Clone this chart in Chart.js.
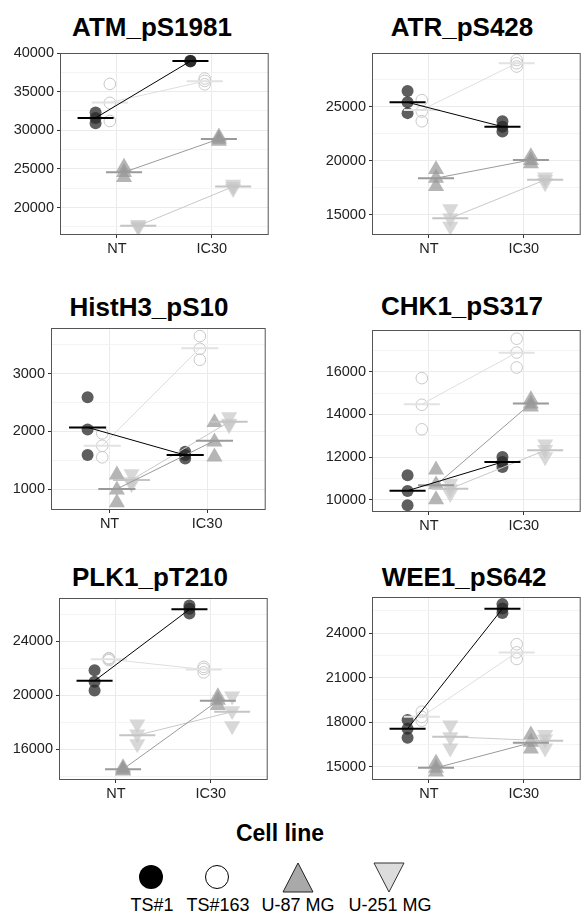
<!DOCTYPE html>
<html>
<head>
<meta charset="utf-8">
<script src="https://cdn.jsdelivr.net/npm/chart.js@4.4.1/dist/chart.umd.min.js"></script>
<style>
  body { margin: 0; width: 587px; height: 921px; background: #fff; position: relative; overflow: hidden;
         font-family: "Liberation Sans", Arial, sans-serif; }
  canvas { position: absolute; }
  .title { position: absolute; font-weight: bold; font-size: 26px; line-height: 26px; white-space: nowrap;
           transform: translateX(-50%); color: #000; }
  .legtitle { position: absolute; left: 280px; top: 822px; font-weight: bold; font-size: 23px; line-height: 23px;
              transform: translateX(-50%); }
  .leglab { position: absolute; top: 896px; font-size: 18px; line-height: 18px; transform: translateX(-50%); white-space: nowrap; }
  svg { position: absolute; left: 0; top: 850px; }
</style>
</head>
<body>
<svg width="587" height="60">
  <circle cx="151" cy="27" r="12" fill="#000"/>
  <circle cx="217" cy="27" r="11.5" fill="#fff" stroke="#000" stroke-width="1"/>
  <polygon points="298,13 283,42 313,42" fill="#a9a9a9" stroke="#222" stroke-width="1"/>
  <polygon points="374,13 404,13 389,42" fill="#dcdcdc" stroke="#333" stroke-width="1"/>
</svg>
<div class="legtitle">Cell line</div>
<div class="leglab" style="left:152px">TS#1</div>
<div class="leglab" style="left:218px">TS#163</div>
<div class="leglab" style="left:298px">U-87 MG</div>
<div class="leglab" style="left:390px">U-251 MG</div>
<script>
const conditions = ['NT', 'IC30'];
const cellLines = ['TS#1', 'TS#163', 'U-87 MG', 'U-251 MG'];

// replicates per cell line: TS#1, TS#163, U-87 MG, U-251 MG
const atmNT = [[32300, 31600, 30900], [36000, 33550, 31200], [25250, 24550, 23900], [17800, 17600, 17450]];
const atmIC30 = [[39000, 38950, 38900], [36700, 36400, 35950], [29150, 28850, 28600], [23000, 22700, 22450]];
const atmMean = [[31600, 38950], [33600, 36350], [24570, 28870], [17640, 22710]];
const atmTicks = [20000, 25000, 30000, 35000, 40000];

const atrNT = [[26450, 25400, 24400], [25600, 24550, 23650], [19200, 18400, 17650], [15550, 14700, 13950]];
const atrIC30 = [[23650, 23150, 22700], [29300, 29000, 28700], [20400, 20050, 19750], [18500, 18250, 17950]];
const atrMean = [[25400, 23150], [24700, 29000], [18400, 20080], [14700, 18240]];
const atrTicks = [15000, 20000, 25000];

const h3NT = [[2590, 2035, 1590], [1966, 1752, 1552], [1250, 990, 770], [1265, 1125, 1090]];
const h3IC30 = [[1650, 1590, 1530], [3650, 3430, 3240], [2155, 1820, 1560], [2250, 2140, 2110]];
const h3Mean = [[2070, 1590], [1752, 3440], [1003, 1840], [1160, 2166]];
const h3Ticks = [1000, 2000, 3000];

const chkNT = [[11140, 10400, 9740], [15700, 14450, 13300], [11400, 10700, 10000], [10750, 10500, 10280]];
const chkIC30 = [[12000, 11765, 11530], [17550, 16900, 16200], [14700, 14500, 14350], [12600, 12350, 12000]];
const chkMean = [[10420, 11765], [14480, 16894], [10680, 14513], [10513, 12315]];
const chkTicks = [10000, 12000, 14000, 16000];

const plkNT = [[21850, 21000, 20350], [22750, 22700, 22600], [14650, 14500, 14400], [17870, 17130, 16400]];
const plkIC30 = [[26650, 26400, 26050], [22100, 21950, 21700], [19900, 19650, 19250], [19940, 18850, 17730]];
const plkMean = [[21070, 26360], [22670, 21910], [14530, 19594], [17040, 18783]];
const plkTicks = [16000, 20000, 24000];

const weeNT = [[18150, 17550, 16950], [18700, 18350, 18100], [15250, 14900, 14650], [17800, 17000, 16250]];
const weeIC30 = [[25950, 25650, 25350], [23250, 22700, 22250], [17150, 16650, 16200], [17150, 16850, 16250]];
const weeMean = [[17560, 25642], [18365, 22690], [14919, 16608], [17013, 16743]];
const weeTicks = [15000, 18000, 21000, 24000];

const panels = [
  { title: 'ATM_pS1981', nt: atmNT, ic: atmIC30, mean: atmMean, ticks: atmTicks, min: 16450, max: 40000, box: [60, 53, 276, 235], tx: 152, ty: 14 },
  { title: 'ATR_pS428', nt: atrNT, ic: atrIC30, mean: atrMean, ticks: atrTicks, min: 13150, max: 29950, box: [372, 53, 588, 235], tx: 462, ty: 14 },
  { title: 'HistH3_pS10', nt: h3NT, ic: h3IC30, mean: h3Mean, ticks: h3Ticks, min: 640, max: 3790, box: [51, 328, 273, 510], tx: 149, ty: 294 },
  { title: 'CHK1_pS317', nt: chkNT, ic: chkIC30, mean: chkMean, ticks: chkTicks, min: 9420, max: 17960, box: [372, 330, 588, 512], tx: 462, ty: 293 },
  { title: 'PLK1_pT210', nt: plkNT, ic: plkIC30, mean: plkMean, ticks: plkTicks, min: 13730, max: 27200, box: [59, 598, 275, 780], tx: 150, ty: 564 },
  { title: 'WEE1_pS642', nt: weeNT, ic: weeIC30, mean: weeMean, ticks: weeTicks, min: 14100, max: 26430, box: [372, 597, 588, 780], tx: 464, ty: 564 }
];

// look of each cell line
const dodge = [-0.225, -0.075, 0.075, 0.225];
const halfW = 0.19;
const looks = [
  { style: 'circle', rot: 0, r: 6, fill: 'rgba(40,40,40,0.75)', stroke: 'rgba(0,0,0,0)', bw: 0, mean: '#000', link: '#000' },
  { style: 'circle', rot: 0, r: 5.8, fill: 'rgba(0,0,0,0)', stroke: '#c8c8c8', bw: 1, mean: '#e2e2e2', link: '#dedede' },
  { style: 'triangle', rot: 0, r: 9.3, fill: 'rgba(150,150,150,0.7)', stroke: 'rgba(0,0,0,0)', bw: 0, mean: '#9a9a9a', link: '#9a9a9a' },
  { style: 'triangle', rot: 180, r: 9.3, fill: 'rgba(200,200,200,0.7)', stroke: 'rgba(0,0,0,0)', bw: 0, mean: '#c4c4c4', link: '#c8c8c8' }
];

const frame = {
  id: 'frame',
  afterDraw(chart) {
    const a = chart.chartArea, ctx = chart.ctx;
    ctx.save();
    ctx.strokeStyle = '#555';
    ctx.lineWidth = 1;
    ctx.strokeRect(a.left + 0.5, a.top + 0.5, a.right - a.left - 1, a.bottom - a.top - 1);
    ctx.restore();
  }
};

const yw = 52, xh = 32, padT = 12, padR = 2;

panels.forEach(p => {
  const [L, T, R, B] = p.box;
  const t = document.createElement('div');
  t.className = 'title';
  t.textContent = p.title;
  t.style.left = p.tx + 'px';
  t.style.top = p.ty + 'px';
  document.body.appendChild(t);

  const cv = document.createElement('canvas');
  cv.width = R - L + yw + padR;
  cv.height = B - T + padT + xh;
  cv.style.left = (L - yw) + 'px';
  cv.style.top = (T - padT) + 'px';
  document.body.appendChild(cv);

  const step = (p.ticks[1] - p.ticks[0]) / 2;
  const all = [];
  for (let v = p.ticks[0] - step; v <= p.max; v += step) if (v >= p.min) all.push(v);
  const isMajor = v => p.ticks.includes(v);

  const datasets = [];
  looks.forEach((lk, c) => {
    const d = dodge[c];
    const m = p.mean[c];
    // mean bars
    [0, 1].forEach(k => {
      datasets.push({ type: 'line', data: [{ x: k + 1 + d - halfW, y: m[k] }, { x: k + 1 + d + halfW, y: m[k] }],
        borderColor: lk.mean, borderWidth: 2, pointRadius: 0, order: 0, clip: 0 });
    });
    // link between condition means
    datasets.push({ type: 'line', data: [{ x: 1 + d, y: m[0] }, { x: 2 + d, y: m[1] }],
      borderColor: lk.link, borderWidth: 1, pointRadius: 0, order: 0, clip: 0 });
  });
  looks.forEach((lk, c) => {
    const d = dodge[c];
    const pts = p.nt[c].map(v => ({ x: 1 + d, y: v })).concat(p.ic[c].map(v => ({ x: 2 + d, y: v })));
    datasets.push({ type: 'scatter', label: cellLines[c], data: pts, pointStyle: lk.style, rotation: lk.rot,
      pointRadius: lk.r, backgroundColor: lk.fill, borderColor: lk.stroke, borderWidth: lk.bw, order: 1, clip: 0 });
  });

  new Chart(cv, {
    data: { datasets },
    options: {
      responsive: false,
      animation: false,
      layout: { padding: { top: padT, right: padR, left: 0, bottom: 0 } },
      plugins: { legend: { display: false }, tooltip: { enabled: false } },
      scales: {
        x: {
          type: 'linear', min: 0.4, max: 2.6,
          afterBuildTicks: s => { s.ticks = [{ value: 1 }, { value: 2 }]; },
          afterFit: s => { s.height = xh; },
          ticks: { callback: v => conditions[v - 1], color: '#222', font: { size: 14.5, family: 'Liberation Sans' }, padding: 2, maxRotation: 0 },
          grid: { color: '#ebebeb', tickColor: '#333', tickLength: 3 },
          border: { display: false }
        },
        y: {
          type: 'linear', min: p.min, max: p.max,
          afterBuildTicks: s => { s.ticks = all.map(v => ({ value: v })); },
          afterFit: s => { s.width = yw; },
          ticks: { autoSkip: false, callback: v => isMajor(v) ? String(v) : '', color: '#222', font: { size: 14.5, family: 'Liberation Sans' }, padding: 3 },
          grid: { color: c => isMajor(c.tick.value) ? '#ebebeb' : '#f4f4f4', tickColor: c => isMajor(c.tick.value) ? '#333' : 'rgba(0,0,0,0)', tickLength: 3 },
          border: { display: false }
        }
      }
    },
    plugins: [frame]
  });
});
</script>
</body>
</html>
